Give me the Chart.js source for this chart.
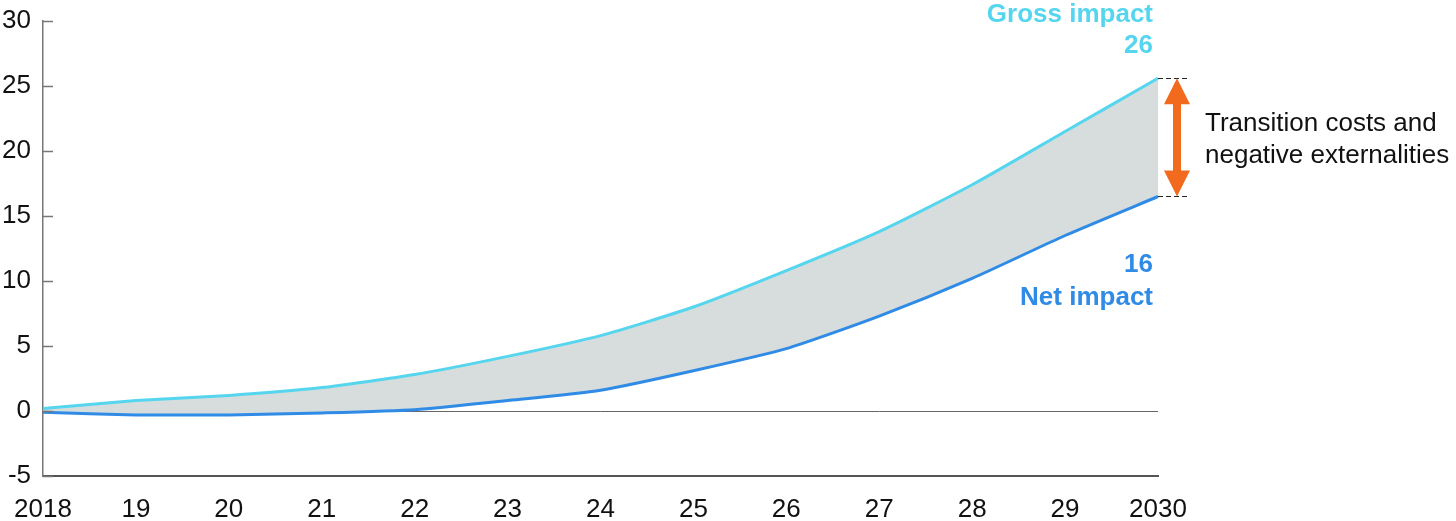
<!DOCTYPE html>
<html>
<head>
<meta charset="utf-8">
<script src="https://cdn.jsdelivr.net/npm/chart.js@4/dist/chart.umd.min.js"></script>
<style>
  html, body { margin: 0; padding: 0; background: #fff; }
  #wrap { width: 1456px; height: 521px; position: relative; }
</style>
</head>
<body>
<div id="wrap"><canvas id="chart"></canvas></div>
<script>
// Jahre auf der x-Achse
const years = ['2018', '19', '20', '21', '22', '23', '24', '25', '26', '27', '28', '29', '2030'];

// Werte
const grossImpact = [0.2, 0.8, 1.2, 1.8, 2.8, 4.2, 5.8, 8.0, 10.8, 13.8, 17.4, 21.5, 25.6];
const netImpact = [-0.1, -0.3, -0.3, -0.15, 0.1, 0.8, 1.6, 3.1, 4.8, 7.3, 10.2, 13.5, 16.5];

const yTicks = [-5, 0, 5, 10, 15, 20, 25, 30];

const grossLabel = 'Gross impact';
const grossValueLabel = '26';
const netLabel = 'Net impact';
const netValueLabel = '16';
const noteLines = ['Transition costs and', 'negative externalities'];

const cyan = '#55d6ee';
const blue = '#2f8be6';
const orange = '#f26a1e';

// eigenes Plugin: kleine Striche an der y-Achse nach innen und die Beschriftungen rechts
const annotations = {
    id: 'annotations',
    afterDatasetsDraw(chart) {
        const ctx = chart.ctx;
        const x = chart.scales.x;
        const y = chart.scales.y;
        const area = chart.chartArea;

        ctx.save();

        // Striche an der y-Achse
        ctx.strokeStyle = '#777';
        ctx.lineWidth = 1.5;
        yTicks.forEach(function (t) {
            const py = Math.round(y.getPixelForValue(t)) + 0.5;
            ctx.beginPath();
            ctx.moveTo(area.left, py);
            ctx.lineTo(area.left + 10, py);
            ctx.stroke();
        });

        const last = years.length - 1;
        const xEnd = x.getPixelForValue(last);
        const yTop = y.getPixelForValue(grossImpact[last]);
        const yBot = y.getPixelForValue(netImpact[last]);

        // gestrichelte Linien
        ctx.strokeStyle = '#222';
        ctx.lineWidth = 1;
        ctx.setLineDash([5, 3]);
        [yTop, yBot].forEach(function (py) {
            ctx.beginPath();
            ctx.moveTo(xEnd, Math.round(py) + 0.5);
            ctx.lineTo(xEnd + 31, Math.round(py) + 0.5);
            ctx.stroke();
        });
        ctx.setLineDash([]);

        // Doppelpfeil
        const ax = xEnd + 19;
        const head = 26;
        const half = 13;
        const shaft = 4;
        ctx.fillStyle = orange;
        ctx.beginPath();
        ctx.moveTo(ax, yTop);
        ctx.lineTo(ax + half, yTop + head);
        ctx.lineTo(ax + shaft, yTop + head);
        ctx.lineTo(ax + shaft, yBot - head);
        ctx.lineTo(ax + half, yBot - head);
        ctx.lineTo(ax, yBot);
        ctx.lineTo(ax - half, yBot - head);
        ctx.lineTo(ax - shaft, yBot - head);
        ctx.lineTo(ax - shaft, yTop + head);
        ctx.lineTo(ax - half, yTop + head);
        ctx.closePath();
        ctx.fill();

        // Texte
        ctx.textAlign = 'right';
        ctx.textBaseline = 'alphabetic';
        ctx.font = 'bold 26px "Liberation Sans", Arial, sans-serif';
        ctx.fillStyle = cyan;
        ctx.fillText(grossLabel, xEnd - 5, 22);
        ctx.fillText(grossValueLabel, xEnd - 5, 53);
        ctx.fillStyle = blue;
        ctx.fillText(netValueLabel, xEnd - 5, 272);
        ctx.fillText(netLabel, xEnd - 5, 305);

        ctx.textAlign = 'left';
        ctx.font = '26px "Liberation Sans", Arial, sans-serif';
        ctx.fillStyle = '#111';
        ctx.fillText(noteLines[0], xEnd + 47, 131);
        ctx.fillText(noteLines[1], xEnd + 47, 163);

        ctx.restore();
    }
};

const data = {
    labels: years,
    datasets: [{
        label: grossLabel,
        data: grossImpact,
        borderColor: cyan,
        borderWidth: 3,
        pointRadius: 0,
        tension: 0.2,
        fill: false
    }, {
        label: netLabel,
        data: netImpact,
        borderColor: blue,
        borderWidth: 3,
        pointRadius: 0,
        tension: 0.2,
        fill: { target: '-1' },
        backgroundColor: '#d6dddc'
    }]
};

const config = {
    type: 'line',
    data: data,
    plugins: [annotations],
    options: {
        responsive: true,
        maintainAspectRatio: false,
        animation: false,
        layout: { padding: { top: 21, right: 298, bottom: 0, left: 0 } },
        plugins: {
            legend: { display: false },
            tooltip: { enabled: false },
            filler: { drawTime: 'beforeDatasetDraw' }
        },
        scales: {
            x: {
                offset: false,
                grid: { display: false, drawTicks: false },
                border: { display: true, color: '#555', width: 2 },
                ticks: {
                    color: '#111',
                    font: { family: '"Liberation Sans", Arial, sans-serif', size: 26 },
                    padding: 18,
                    maxRotation: 0,
                    autoSkip: false
                },
                afterFit: function (scale) {
                    scale.height = 45;
                    scale.paddingLeft = 0;
                    scale.paddingRight = 0;
                }
            },
            y: {
                min: -5,
                max: 30,
                afterBuildTicks: function (scale) {
                    scale.ticks = yTicks.map(function (v) { return { value: v }; });
                },
                grid: {
                    drawTicks: false,
                    color: function (c) { return c.tick && c.tick.value === 0 ? '#666' : 'transparent'; },
                    lineWidth: 1
                },
                border: { display: true, color: '#777', width: 1.5 },
                ticks: {
                    color: '#111',
                    font: { family: '"Liberation Sans", Arial, sans-serif', size: 26 },
                    padding: 12
                },
                afterFit: function (scale) {
                    scale.width = 43;
                    scale.paddingTop = 0;
                    scale.paddingBottom = 0;
                }
            }
        }
    }
};

new Chart(document.getElementById('chart'), config);
</script>
</body>
</html>
